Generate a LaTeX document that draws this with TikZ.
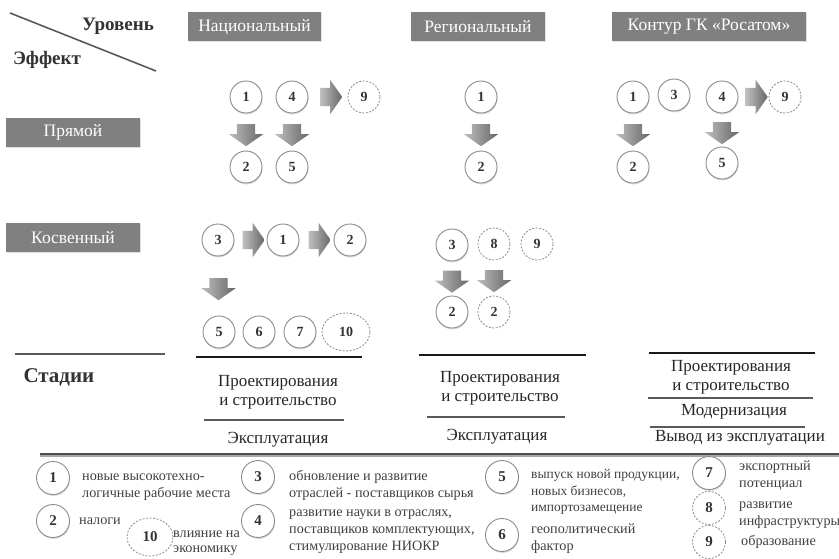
\documentclass[tikz,border=0pt]{standalone}
\usepackage{fontspec}
\setmainfont{LiberationSerif}[Extension=.ttf, UprightFont=*-Regular, BoldFont=*-Bold,
  ItalicFont=*-Italic, BoldItalicFont=*-BoldItalic]
\usetikzlibrary{shapes.geometric,shapes.arrows,shadows,calc}

\begin{document}
\begin{tikzpicture}[
  x=1pt, y=-1pt,
  hdr/.style={fill=black!50, text=white, minimum height=29pt, inner sep=0pt,
    font=\fontsize{17.5}{19}\selectfont,
    drop shadow={shadow xshift=0.8pt, shadow yshift=-0.8pt, opacity=0.25}},
  corner/.style={text=black!80, font=\fontsize{19}{21}\selectfont\bfseries},
  num/.style={circle, draw=black!45, line width=0.9pt, fill=white, minimum size=32pt,
    inner sep=0pt, text=black!80, font=\fontsize{14}{16}\selectfont\bfseries,
    drop shadow={shadow xshift=0.5pt, shadow yshift=-1.4pt, opacity=0.3}},
  numd/.style={circle, draw=black!45, dash pattern=on 2pt off 1.5pt, line width=0.8pt,
    fill=white, minimum size=32pt, inner sep=0pt, text=black!80,
    font=\fontsize{14}{16}\selectfont\bfseries},
  nume/.style={numd, ellipse, minimum width=48pt, minimum height=38pt},
  arrbase/.style={single arrow, draw=none, minimum height=22pt, inner xsep=0pt,
    inner ysep=9pt, single arrow head extend=8pt, single arrow tip angle=110,
    left color=black!25, right color=black!60},
  dnarr/.style={arrbase, rotate=-90},
  rtarr/.style={arrbase},
  stagetxt/.style={align=center, text=black!85, font=\fontsize{17}{19}\selectfont},
  blackline/.style={line width=2.8pt, black!90},
  grayline/.style={line width=2.4pt, black!65},
  lnum/.style={num, minimum size=33pt, font=\fontsize{15}{17}\selectfont\bfseries},
  lnumd/.style={numd, minimum size=33pt, font=\fontsize{15}{17}\selectfont\bfseries},
  legtxt/.style={anchor=west, align=left, text=black!75, inner sep=0pt,
    font=\fontsize{14.2}{17}\selectfont}
]
\useasboundingbox (0,0) rectangle (839,559);

% corner of the table
\draw[line width=1.6pt, black!65] (10,13) -- (156,71);
\node[corner] (lvl) at (118,26) {Уровень};
\node[corner] (eff) at (47,60) {Эффект};

% levels and effects
\node[hdr, minimum width=133pt] (nat) at (254.5,27) {Национальный};
\node[hdr, minimum width=134pt] (reg) at (478,27) {Региональный};
\node[hdr, minimum width=194pt] (ros) at (709,27) {Контур ГК «Росатом»};
\node[hdr, minimum width=134pt] (dir) at (73,132.5) {Прямой};
\node[hdr, minimum width=134pt] (ind) at (73,238) {Косвенный};

% direct, national
\node[num] (n1) at (246,97) {1};
\node[num] (n4) at (292,97) {4};
\node[numd] (n9) at (364,97) {9};
\node[num] (n2) at (246,167) {2};
\node[num] (n5) at (292,167) {5};
\node[dnarr] (na1) at ($(n1)!0.5!(n2)$) {};
\node[dnarr] (na2) at ($(n4)!0.5!(n5)$) {};
\node[rtarr] (na3) at ($(n4)!0.5!(n9)$) {};

% direct, regional
\node[num] (r1) at (481,97) {1};
\node[num] (r2) at (481,167) {2};
\node[dnarr] (ra1) at ($(r1)!0.5!(r2)$) {};

% direct, Rosatom
\node[num] (k1) at (633,97) {1};
\node[num] (k3) at (674,95) {3};
\node[num] (k4) at (722,97) {4};
\node[numd] (k9) at (785,97) {9};
\node[num] (k2) at (633,167) {2};
\node[num] (k5) at (722,163) {5};
\node[dnarr] (ka1) at ($(k1)!0.5!(k2)$) {};
\node[dnarr] (ka2) at ($(k4)!0.5!(k5)$) {};
\node[rtarr] (ka3) at ($(k4)!0.5!(k9)$) {};

% indirect, national
\node[num] (i3) at (218,240) {3};
\node[num] (i1) at (283,240) {1};
\node[num] (i2) at (350,240) {2};
\node[num] (i5) at (219,332) {5};
\node[num] (i6) at (259,332) {6};
\node[num] (i7) at (300,332) {7};
\node[nume] (i10) at (346,332) {10};
\node[rtarr] (ia1) at ($(i3)!0.5!(i1)$) {};
\node[rtarr] (ia2) at ($(i1)!0.5!(i2)$) {};
\node[dnarr] (ia3) at ($(i3)!0.5!(i5)$) {};

% indirect, regional
\node[num] (j3) at (452,245) {3};
\node[numd] (j8) at (494,244) {8};
\node[numd] (j9) at (537,244) {9};
\node[num] (j2) at (452,312) {2};
\node[numd] (j2d) at (494,312) {2};
\node[dnarr] (ja1) at ($(j3)!0.5!(j2)$) {};
\node[dnarr] (ja2) at ($(j8)!0.5!(j2d)$) {};

% stages
\draw[grayline] (15,354) -- (165,354);
\node[corner, anchor=west, font=\fontsize{21}{23}\selectfont\bfseries] (stg) at (20,377) {Стадии};

\draw[blackline] (196,357) -- (362,357);
\node[stagetxt] (np) at (278,392) {Проектирования\\и строительство};
\draw[grayline] (204,420) -- (344,420);
\node[stagetxt] (ne) at (278,440) {Эксплуатация};

\draw[blackline] (419,355) -- (586,355);
\node[stagetxt] (rp) at (500,388) {Проектирования\\и строительство};
\draw[grayline] (427,417) -- (565,417);
\node[stagetxt] (re) at (497,437) {Эксплуатация};

\draw[blackline] (649,353) -- (815,353);
\node[stagetxt] (kp) at (731,377) {Проектирования\\и строительство};
\draw[grayline] (648,398) -- (813,398);
\node[stagetxt] (km) at (734,412) {Модернизация};
\draw[grayline] (650,427) -- (805,427);
\node[stagetxt] (kv) at (740,437.5) {Вывод из эксплуатации};

% legend
\draw[line width=2.5pt, black!35] (40,455.5) -- (839,455.5);
\draw[line width=2pt, black!70] (40,453.5) -- (839,453.5);

\node[lnum] (l1) at (53,478) {1};
\node[legtxt] (t1) at (82,487) {новые высокотехно-\\логичные рабочие места};
\node[lnum] (l2) at (53,521) {2};
\node[legtxt] (t2) at (79,521) {налоги};
\node[nume, minimum width=46pt, minimum height=38pt, font=\fontsize{15}{17}\selectfont\bfseries] (l10) at (150,537) {10};
\node[legtxt, font=\fontsize{14.2}{15}\selectfont] (t10) at (173,543) {влияние на\\экономику};
\node[lnum] (l3) at (258,477) {3};
\node[legtxt] (t3) at (289,485) {обновление и развитие\\отраслей - поставщиков сырья};
\node[lnum] (l4) at (258,521) {4};
\node[legtxt] (t4) at (289,532) {развитие науки в отраслях,\\поставщиков комплектующих,\\стимулирование НИОКР};
\node[lnum] (l5) at (502,477) {5};
\node[legtxt, font=\fontsize{13.5}{16.5}\selectfont] (t5) at (531,492) {выпуск новой продукции,\\новых бизнесов,\\импортозамещение};
\node[lnum] (l6) at (502,535) {6};
\node[legtxt] (t6) at (531,539) {геополитический\\фактор};
\node[lnum] (l7) at (709,473) {7};
\node[legtxt] (t7) at (739,476) {экспортный\\потенциал};
\node[lnumd] (l8) at (709,508) {8};
\node[legtxt] (t8) at (739,515) {развитие\\инфраструктуры};
\node[lnumd] (l9) at (709,542) {9};
\node[legtxt] (t9) at (741,542) {образование};

\end{tikzpicture}
\end{document}
